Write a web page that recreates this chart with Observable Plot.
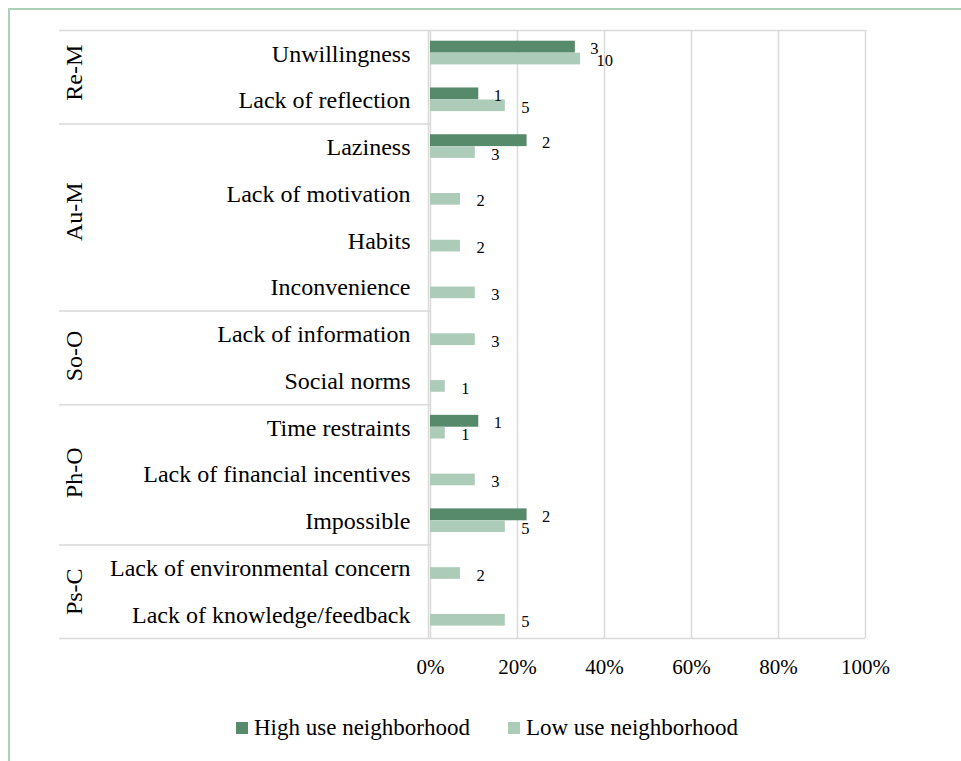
<!DOCTYPE html>
<html>
<head>
<meta charset="utf-8">
<script src="https://cdn.jsdelivr.net/npm/d3@7"></script>
<script src="https://cdn.jsdelivr.net/npm/@observablehq/plot@0.6"></script>
<style>
  body { margin: 0; background: #fff; }
  #wrap { position: relative; width: 961px; height: 761px; overflow: hidden; background: #fff;
          font-family: "Liberation Serif", "Times New Roman", serif; color: #000; }
  #border { position: absolute; left: 8px; top: 8px; right: -20px; bottom: -20px;
            border-left: 2px solid #aed0ba; border-top: 2px solid #aed0ba; }
  #chart { position: absolute; left: 0; top: 0; }
  #chart svg { font-family: "Liberation Serif", "Times New Roman", serif !important; font-size: 21px; color: #000; background: transparent !important; overflow: visible; }
  #chart svg text { font-family: "Liberation Serif", "Times New Roman", serif !important; }
  #legend { position: absolute; top: 715px; left: 236px; display: flex; align-items: center;
            font-size: 23px; white-space: nowrap; }
  #legend .item { display: flex; align-items: center; }
  #legend .sw { width: 12px; height: 12px; margin-right: 6px; }
  #legend .item + .item { margin-left: 38px; }
</style>
</head>
<body>
<div id="wrap">
  <div id="border"></div>
  <div id="chart"></div>
  <div id="legend"></div>
</div>
<script>
// ---- data ----
const categories = [
  "Unwillingness", "Lack of reflection",
  "Laziness", "Lack of motivation", "Habits", "Inconvenience",
  "Lack of information", "Social norms",
  "Time restraints", "Lack of financial incentives", "Impossible",
  "Lack of environmental concern", "Lack of knowledge/feedback"
];
const groups = ["Re-M", "Au-M", "So-O", "Ph-O", "Ps-C"];
const groupSizes = [2, 4, 2, 3, 2];
const seriesNames = ["High use neighborhood", "Low use neighborhood"];
const seriesColors = ["#578a6a", "#adcbb9"];
// bar lengths (share, %)
const highPct = [33.3, 11.1, 22.2, null, null, null, null, null, 11.1, null, 22.2, null, null];
const lowPct  = [34.5, 17.2, 10.3, 6.9, 6.9, 10.3, 10.3, 3.4, 3.4, 10.3, 17.2, 6.9, 17.2];
// data labels (counts)
const highCount = [3, 1, 2, null, null, null, null, null, 1, null, 2, null, null];
const lowCount  = [10, 5, 3, 2, 2, 3, 3, 1, 1, 3, 5, 2, 5];
const xTicks = [0, 20, 40, 60, 80, 100];

// ---- tables built from the arrays ----
const highRows = categories.map((c, i) => ({category: c, value: highPct[i], label: highCount[i]})).filter(d => d.value != null);
const lowRows  = categories.map((c, i) => ({category: c, value: lowPct[i], label: lowCount[i]})).filter(d => d.value != null);
let acc = 0;
const groupRows = groups.map((g, i) => {
  const r = {group: g, first: categories[acc], size: groupSizes[i]};
  acc += groupSizes[i];
  return r;
});

// ---- layout ----
const W = 961, H = 700, mt = 30, mb = 62, ml = 430, mr = 96;
const step = (H - mt - mb) / categories.length;
const gridColor = "#d9d9d9";
const tableLeft = 59;            // left edge of the category table
const extendLeft = -(ml - tableLeft);
const plotWidth = W - ml - mr;
const serif = "'Liberation Serif', 'Times New Roman', serif";

// rotated text is anchored at the band start, so shift to the group's middle
const groupLabelMarks = groupRows.map(g =>
  Plot.text([g], {
    y: "first", text: "group", frameAnchor: "left", rotate: -90,
    dx: -356.5, dy: g.size / 2 * step, fontSize: 24, fill: "#000", fontFamily: serif
  })
);

const chart = Plot.plot({
  width: W, height: H,
  marginTop: mt, marginBottom: mb, marginLeft: ml, marginRight: mr,
  style: "font-family: 'Liberation Serif', 'Times New Roman', serif; font-size: 21px; color: #000; background: transparent; overflow: visible;",
  x: {domain: [0, 100], ticks: xTicks, tickFormat: d => d + "%", tickSize: 0, tickPadding: 21, label: null},
  y: {type: "band", domain: categories, paddingInner: 0, paddingOuter: 0, round: false, axis: null},
  marks: [
    // grid lines
    Plot.ruleX(xTicks, {stroke: gridColor, strokeWidth: 1.5}),
    Plot.ruleX([0], {stroke: gridColor, strokeWidth: 1.5, dx: -2}),
    // top and bottom lines spanning table + plot
    Plot.ruleY([categories[0]], {dy: -step / 2, insetLeft: extendLeft, stroke: gridColor, strokeWidth: 1.5}),
    Plot.ruleY([categories[categories.length - 1]], {dy: step / 2, insetLeft: extendLeft, stroke: gridColor, strokeWidth: 1.5}),
    // group separators in the table
    Plot.ruleY(groupRows.slice(1), {y: "first", dy: -step / 2, insetLeft: extendLeft, insetRight: plotWidth, stroke: gridColor, strokeWidth: 1.5}),
    // bars
    Plot.barX(highRows, {x: "value", y: "category", fill: seriesColors[0], insetTop: 10.7, insetBottom: 24.2}),
    Plot.barX(lowRows,  {x: "value", y: "category", fill: seriesColors[1], insetTop: 22.7, insetBottom: 12.4}),
    // data labels
    Plot.text(highRows, {x: "value", y: "category", text: "label", textAnchor: "start", dx: 15, dy: -5, fontSize: 16.5, fill: "#000", fontFamily: serif}),
    Plot.text(lowRows,  {x: "value", y: "category", text: "label", textAnchor: "start", dx: 16, dy: 7, fontSize: 16.5, fill: "#000", fontFamily: serif}),
    // category labels
    Plot.text(categories, {y: d => d, text: d => d, frameAnchor: "left", textAnchor: "end", dx: -20, fontSize: 24, fill: "#000", fontFamily: serif}),
    ...groupLabelMarks
  ]
});
document.getElementById("chart").appendChild(chart);

// legend
const legend = document.getElementById("legend");
seriesNames.forEach((name, i) => {
  const item = document.createElement("div");
  item.className = "item";
  const sw = document.createElement("div");
  sw.className = "sw";
  sw.style.background = seriesColors[i];
  const t = document.createElement("span");
  t.textContent = name;
  item.appendChild(sw);
  item.appendChild(t);
  legend.appendChild(item);
});
</script>
</body>
</html>
